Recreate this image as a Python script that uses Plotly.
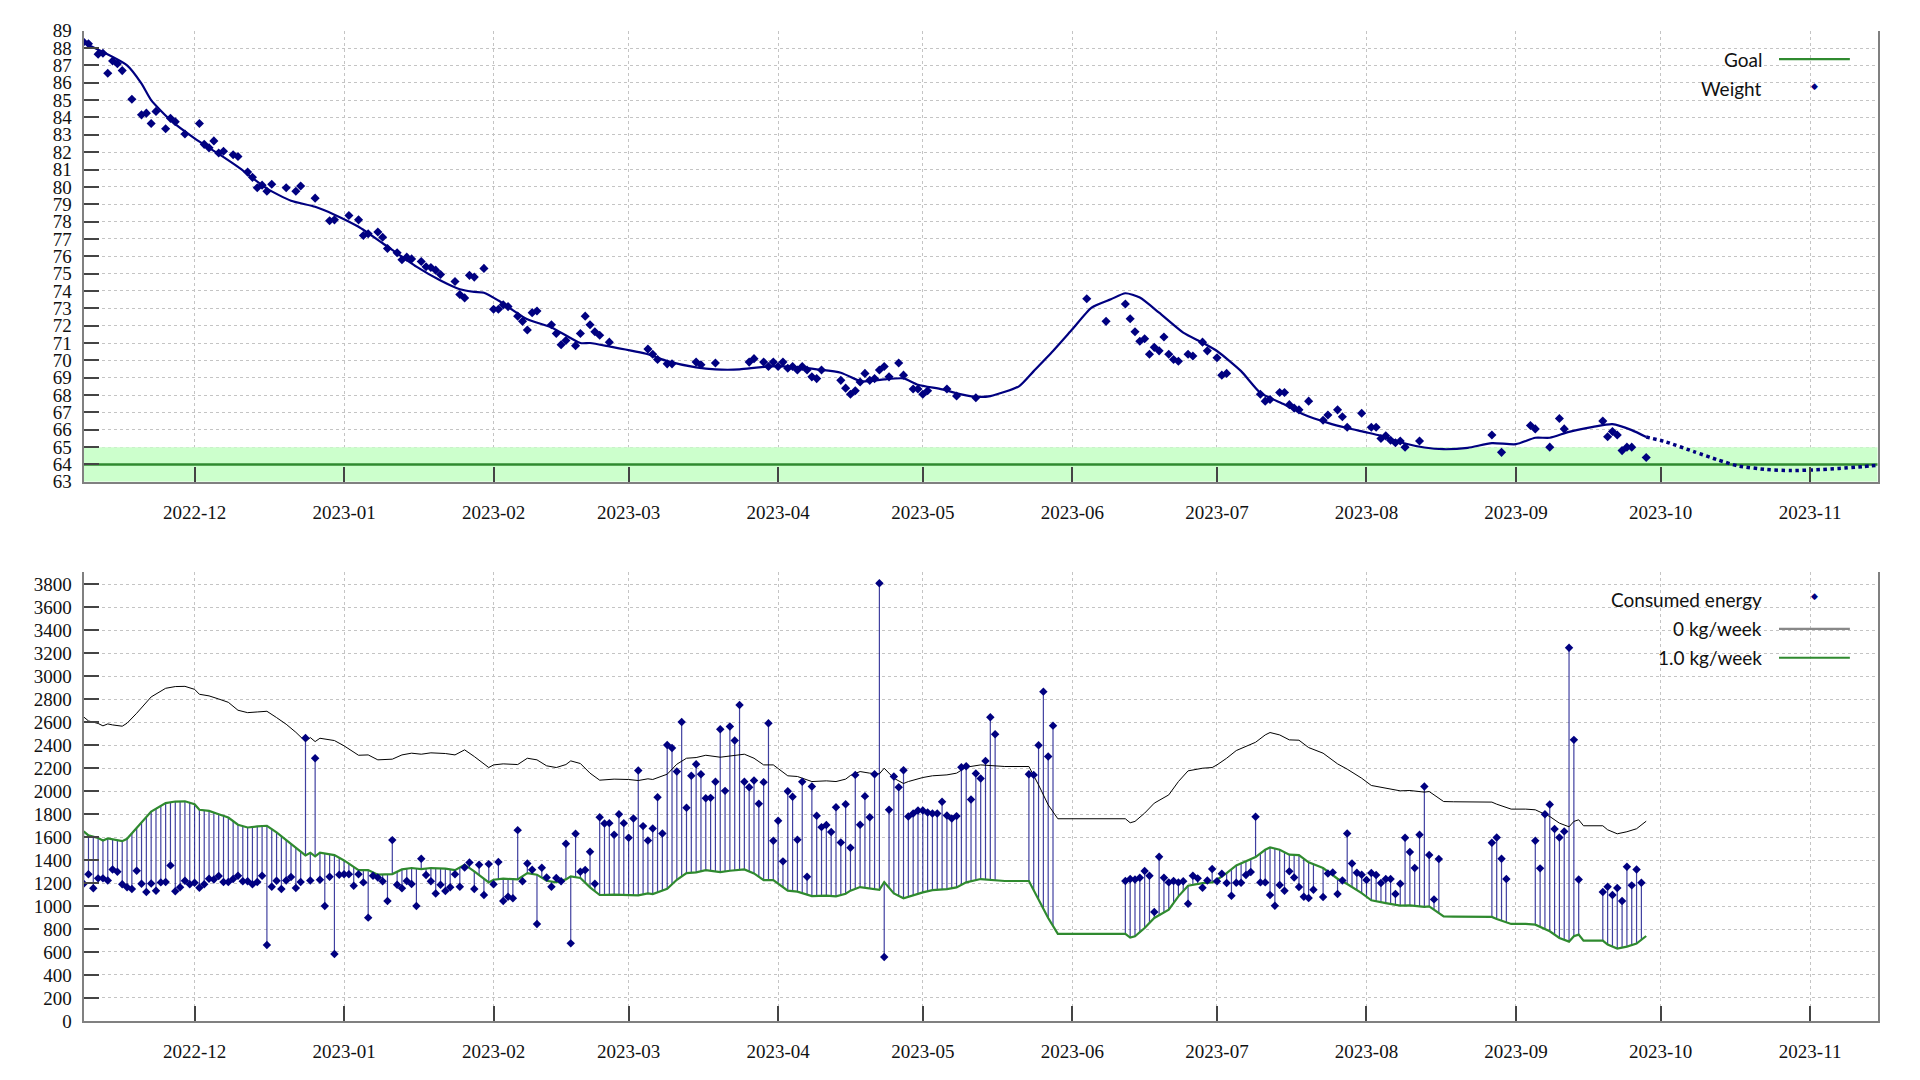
import numpy as np
import pandas as pd
import plotly.graph_objects as go
from plotly.subplots import make_subplots

# x axis: day numbers are counted from START
START = pd.Timestamp("2022-11-08")
X_END = pd.Timestamp("2023-11-15")

# --- weight chart ---
WEIGHT_DAY = [
    0, 1, 3, 4, 5, 6, 7, 8, 10, 12, 13, 14, 15, 17, 18, 19, 21, 24, 25, 26,
    27, 28, 29, 31, 32, 34, 35, 36, 37, 38, 39, 42, 44, 45, 48, 51, 52, 55, 57, 58,
    59, 61, 62, 63, 65, 66, 67, 68, 70, 71, 72, 73, 74, 77, 78, 79, 80, 81, 83, 85,
    86, 87, 88, 90, 91, 92, 93, 94, 97, 98, 99, 100, 102, 103, 104, 105, 106, 107, 109, 117,
    118, 119, 121, 122, 127, 128, 131, 138, 139, 141, 142, 143, 144, 145, 146, 147, 148, 149, 150, 151,
    152, 153, 157, 158, 159, 160, 161, 162, 163, 164, 165, 166, 167, 169, 170, 172, 173, 174, 175, 179,
    181, 185, 208, 212, 216, 217, 218, 219, 220, 221, 222, 223, 224, 225, 226, 227, 229, 230, 232, 233,
    235, 236, 237, 244, 245, 246, 248, 249, 250, 251, 252, 254, 257, 258, 260, 261, 262, 265, 267, 268,
    269, 270, 271, 272, 273, 274, 277, 292, 294, 300, 301, 304, 306, 307, 315, 316, 317, 318, 319, 320,
    321, 324,
]
WEIGHT_KG = [
    88.35, 88.25, 87.65, 87.7, 86.55, 87.25, 87.1, 86.7, 85.05, 84.15, 84.25, 83.65, 84.35, 83.35, 83.95, 83.75, 83.05, 83.65, 82.45, 82.25,
    82.65, 81.95, 82.05, 81.85, 81.75, 80.85, 80.55, 79.95, 80.1, 79.75, 80.15, 79.95, 79.75, 80.05, 79.35, 78.05, 78.1, 78.35, 78.1, 77.2,
    77.3, 77.4, 77.1, 76.45, 76.2, 75.8, 75.95, 75.85, 75.7, 75.4, 75.35, 75.2, 74.95, 74.55, 73.8, 73.6, 74.9, 74.8, 75.3, 72.95,
    72.95, 73.2, 73.1, 72.55, 72.25, 71.75, 72.75, 72.85, 72.05, 71.55, 70.9, 71.15, 70.85, 71.55, 72.55, 72.05, 71.65, 71.45, 71.05, 70.65,
    70.35, 70.05, 69.8, 69.8, 69.9, 69.75, 69.85, 69.9, 70.1, 69.9, 69.65, 69.9, 69.65, 69.9, 69.55, 69.65, 69.45, 69.65, 69.45, 69.05,
    68.95, 69.45, 68.85, 68.4, 68.05, 68.25, 68.75, 69.25, 68.85, 68.95, 69.45, 69.65, 69.05, 69.85, 69.15, 68.35, 68.35, 68.05, 68.25, 68.35,
    67.95, 67.85, 73.55, 72.25, 73.25, 72.4, 71.65, 71.1, 71.25, 70.35, 70.75, 70.55, 71.35, 70.35, 70.05, 69.95, 70.35, 70.25, 71.05, 70.55,
    70.15, 69.15, 69.25, 68.05, 67.65, 67.75, 68.15, 68.15, 67.45, 67.25, 67.15, 67.65, 66.55, 66.85, 67.15, 66.75, 66.15, 66.95, 66.15, 66.15,
    65.5, 65.65, 65.4, 65.25, 65.35, 65.0, 65.35, 65.7, 64.7, 66.25, 66.05, 65.0, 66.65, 66.05, 66.5, 65.6, 65.9, 65.7, 64.8, 65.0,
    65.0, 64.4,
]

TREND_DAY = [
    0, 9, 12, 14, 18, 23, 28, 32, 38, 43, 48, 52, 57, 62, 69, 74, 78, 81, 83, 86,
    92, 97, 103, 105, 109, 117, 121, 127, 131, 136, 140, 144, 149, 152, 157, 161, 163, 166, 170, 173,
    178, 182, 185, 188, 194, 197, 201, 205, 209, 213, 216, 219, 223, 228, 232, 235, 240, 244, 249, 253,
    258, 262, 266, 269, 274, 278, 282, 287, 292, 297, 301, 304, 308, 313, 317, 321, 324,
]
TREND_KG = [
    88.3, 87.0, 85.95, 85.0, 83.85, 82.8, 81.9, 81.15, 79.9, 79.2, 78.85, 78.4, 77.7, 76.75, 75.4, 74.6, 74.1, 73.95, 73.9, 73.45,
    72.37, 71.9, 71.0, 71.0, 70.8, 70.35, 69.96, 69.6, 69.48, 69.48, 69.6, 69.67, 69.58, 69.48, 69.29, 68.81, 68.8, 68.9, 68.96, 68.6,
    68.33, 68.04, 67.9, 67.94, 68.52, 69.38, 70.54, 71.79, 73.04, 73.52, 73.87, 73.62, 72.75, 71.6, 71.02, 70.54, 69.38, 68.13, 67.46, 66.88,
    66.4, 66.1, 65.85, 65.65, 65.21, 64.98, 64.88, 64.96, 65.23, 65.17, 65.54, 65.54, 65.88, 66.17, 66.33, 65.98, 65.58,
]
FORECAST_DAY = [324, 328, 334, 339, 343, 349, 354, 359, 364, 369, 372]
FORECAST_KG = [65.58, 65.31, 64.73, 64.25, 63.92, 63.71, 63.65, 63.69, 63.77, 63.88, 63.96]

GOAL_KG = 64
GOAL_BAND_KG = (63, 65)

# --- energy chart ---
# one value per day from START, None where nothing was logged
ENERGY_KCAL = [
    1194, 1276, 1154, 1241, 1241, 1223, 1319, 1299, 1189, 1163,
    1148, 1307, 1194, 1122, 1197, 1134, 1206, 1209, 1354, 1128,
    1163, 1220, 1189, 1203, 1160, 1189, 1238, 1232, 1261, 1209,
    1209, 1235, 1264, 1215, 1215, 1189, 1209, 1264, 661, 1168,
    1220, 1148, 1223, 1252, 1157, 1209, 2464, 1223, 2287, 1229,
    1000, 1255, 583, 1273, 1276, 1276, 1177, 1276, 1206, 899,
    1264, 1249, 1215, 1044, 1574, 1186, 1154, 1218, 1192, 1000,
    1412, 1270, 1215, 1110, 1186, 1131, 1163, 1276, 1168, 1336,
    1380, 1148, 1360, 1096, 1365, 1189, 1383, 1044, 1081, 1067,
    1661, 1215, 1371, 1316, 844, 1334, 1249, 1168, 1244, 1215,
    1542, 675, 1629, 1299, 1313, 1473, 1194, 1774, 1719, 1722,
    1621, 1800, 1722, 1594, 1763, 2180, 1696, 1571, 1676, 1948,
    1632, 2403, 2377, 2171, 2603, 1855, 2134, 2235, 2148, 1939,
    1942, 2082, 2540, 2003, 2563, 2441, 2751, 2082, 2035, 2093,
    1890, 2079, 2592, 1568, 1742, 1389, 2000, 1951, 1577, 2082,
    1255, 2041, 1786, 1687, 1705, 1644, 1861, 1554, 1887, 1507,
    2142, 1708, 1957, 1774, 2148, 3810, 557, 1838, 2128, 2035,
    2183, 1780, 1806, 1832, 1832, 1815, 1806, 1806, 1908, 1789,
    1763, 1783, 2209, 2218, 1928, 2154, 2110, 2264, 2644, 2496,
    None, None, None, None, None, None, 2148, 2142, 2400, 2867,
    2302, 2571, None, None, None, None, None, None, None, None,
    None, None, None, None, None, None, 1218, 1235, 1232, 1247,
    1305, 1264, 948, 1429, 1247, 1206, 1218, 1206, 1215, 1020,
    1264, 1241, 1160, 1223, 1322, 1215, 1281, 1200, 1090, 1203,
    1203, 1270, 1296, 1777, 1206, 1206, 1096, 1003, 1183, 1134,
    1302, 1249, 1165, 1081, 1070, 1142, None, 1078, 1284, 1293,
    1104, 1223, 1632, 1371, 1290, 1273, 1226, 1287, 1270, 1200,
    1235, 1235, 1104, 1194, 1594, 1470, 1331, 1621, 2041, 1444,
    1058, 1409, None, None, None, None, None, None, None, None,
    None, None, 1551, 1597, 1412, 1235, None, None, None, None,
    None, 1568, 1328, 1800, 1884, 1670, 1597, 1650, 3250, 2447,
    1232, None, None, None, None, 1122, 1168, 1096, 1157, 1044,
    1342, 1180, 1319, 1203,
]

BALANCE_DAY = [
    0, 1, 3, 4, 5, 6, 8, 9, 11, 14, 17, 19, 21, 23, 24, 26, 28, 30, 32, 34,
    36, 38, 40, 42, 44, 46, 47, 48, 49, 52, 54, 55, 57, 59, 61, 64, 66, 68, 70, 72,
    75, 77, 79, 81, 84, 85, 87, 90, 92, 94, 96, 98, 100, 101, 103, 105, 107, 110, 113, 115,
    117, 118, 121, 123, 125, 127, 129, 132, 134, 137, 139, 141, 143, 146, 148, 150, 151, 154, 156, 158,
    159, 161, 163, 165, 166, 168, 170, 171, 174, 176, 179, 181, 183, 186, 189, 191, 196, 198, 200, 202,
    216, 217, 218, 220, 222, 225, 227, 229, 232, 234, 235, 237, 239, 243, 245, 246, 248, 250, 252, 254,
    257, 260, 262, 265, 267, 270, 273, 275, 278, 279, 282, 284, 292, 293, 296, 299, 301, 304, 306, 308,
    309, 310, 311, 315, 316, 318, 320, 322, 324,
]
ZERO_KG_WEEK_KCAL = [
    2647, 2612, 2590, 2569, 2586, 2577, 2566, 2592, 2679, 2821, 2896, 2911, 2913, 2887, 2844, 2830, 2803, 2774, 2705, 2684,
    2690, 2696, 2641, 2583, 2513, 2432, 2467, 2432, 2461, 2441, 2395, 2368, 2313, 2316, 2273, 2279, 2316, 2331, 2322, 2334,
    2328, 2316, 2360, 2302, 2206, 2229, 2238, 2232, 2287, 2273, 2221, 2206, 2232, 2264, 2241, 2157, 2096, 2105, 2102, 2093,
    2108, 2102, 2148, 2235, 2287, 2293, 2313, 2296, 2305, 2322, 2287, 2229, 2229, 2134, 2128, 2099, 2084, 2090, 2084, 2105,
    2137, 2171, 2157, 2151, 2200, 2113, 2067, 2084, 2119, 2134, 2142, 2157, 2209, 2229, 2224, 2215, 2215, 2055, 1881, 1760,
    1760, 1725, 1737, 1809, 1896, 1968, 2084, 2177, 2200, 2206, 2229, 2287, 2354, 2426, 2490, 2511, 2490, 2447, 2444, 2380,
    2331, 2238, 2192, 2113, 2050, 2026, 2003, 2006, 1992, 1997, 1910, 1908, 1905, 1887, 1844, 1844, 1838, 1780, 1722, 1690,
    1737, 1751, 1699, 1699, 1664, 1629, 1647, 1673, 1739,
]
ONE_KG_WEEK_KCAL = [
    1650, 1615, 1592, 1571, 1589, 1580, 1565, 1586, 1678, 1823, 1896, 1910, 1912, 1887, 1838, 1829, 1800, 1771, 1708, 1684,
    1693, 1699, 1641, 1577, 1510, 1441, 1464, 1432, 1464, 1444, 1397, 1368, 1313, 1313, 1273, 1278, 1319, 1331, 1322, 1331,
    1325, 1313, 1360, 1302, 1206, 1229, 1238, 1232, 1287, 1273, 1220, 1206, 1232, 1258, 1244, 1163, 1096, 1099, 1099, 1093,
    1110, 1104, 1151, 1229, 1287, 1293, 1313, 1296, 1307, 1319, 1284, 1226, 1226, 1134, 1125, 1104, 1087, 1090, 1084, 1107,
    1134, 1165, 1151, 1142, 1209, 1110, 1067, 1081, 1119, 1139, 1148, 1162, 1206, 1235, 1226, 1218, 1218, 1055, 896, 757,
    757, 725, 737, 809, 896, 968, 1084, 1177, 1200, 1206, 1229, 1287, 1354, 1426, 1490, 1510, 1490, 1447, 1444, 1380,
    1331, 1238, 1192, 1113, 1050, 1026, 1003, 1006, 992, 997, 910, 908, 905, 887, 844, 844, 838, 780, 722, 690,
    737, 751, 699, 699, 664, 629, 647, 673, 739,
]

NAVY = "#000080"
GREEN = "#2f8a2f"
GRID = "#c4c4c4"
AXIS = "#808080"
TICK_FONT = dict(family="Liberation Serif", size=19, color="#111")
LEGEND_FONT = dict(family="Lato", size=19, color="#111")


def to_dates(days):
    return [START + pd.Timedelta(days=float(d)) for d in days]


energy_day = [d for d, v in enumerate(ENERGY_KCAL) if v is not None]
energy_val = [v for v in ENERGY_KCAL if v is not None]
# each stem runs from the logged value down/up to the 1.0 kg/week line
stem_base = np.interp(energy_day, BALANCE_DAY, ONE_KG_WEEK_KCAL)
stem_x, stem_y = [], []
for d, v, b in zip(to_dates(energy_day), energy_val, stem_base):
    stem_x += [d, d, None]
    stem_y += [v, b, None]

fig = make_subplots(rows=2, cols=1)

# goal band (63..65) and goal line, spanning the whole x range
fig.add_trace(go.Scatter(
    x=[START, X_END], y=[GOAL_BAND_KG[0]] * 2, mode="lines", line=dict(width=0),
    hoverinfo="skip",
), row=1, col=1)
fig.add_trace(go.Scatter(
    x=[START, X_END], y=[GOAL_BAND_KG[1]] * 2, mode="lines", line=dict(width=0),
    fill="tonexty", fillcolor="#ccffcc", hoverinfo="skip",
), row=1, col=1)
fig.add_trace(go.Scatter(
    x=[START, X_END], y=[GOAL_KG] * 2, mode="lines", line=dict(color=GREEN, width=2.5),
), row=1, col=1)

# weight
fig.add_trace(go.Scatter(
    x=to_dates(WEIGHT_DAY), y=WEIGHT_KG, mode="markers",
    marker=dict(symbol="diamond", size=7, color=NAVY),
), row=1, col=1)
fig.add_trace(go.Scatter(
    x=to_dates(TREND_DAY), y=TREND_KG, mode="lines",
    line=dict(color=NAVY, width=2.2, shape="spline", smoothing=0.6),
), row=1, col=1)
fig.add_trace(go.Scatter(
    x=to_dates(FORECAST_DAY), y=FORECAST_KG, mode="lines",
    line=dict(color=NAVY, width=3.5, dash="dot", shape="spline", smoothing=0.6),
), row=1, col=1)

# energy
fig.add_trace(go.Scatter(
    x=stem_x, y=stem_y, mode="lines",
    line=dict(color="rgba(0,0,128,0.75)", width=1.2),
), row=2, col=1)
fig.add_trace(go.Scatter(
    x=to_dates(BALANCE_DAY), y=ZERO_KG_WEEK_KCAL, mode="lines",
    line=dict(color="black", width=1),
), row=2, col=1)
fig.add_trace(go.Scatter(
    x=to_dates(BALANCE_DAY), y=ONE_KG_WEEK_KCAL, mode="lines",
    line=dict(color=GREEN, width=2.2),
), row=2, col=1)
fig.add_trace(go.Scatter(
    x=to_dates(energy_day), y=energy_val, mode="markers",
    marker=dict(symbol="diamond", size=6.5, color=NAVY),
), row=2, col=1)


# legends drawn by hand: label on the left, sample on the right
def legend_row(y, label, kind, color):
    fig.add_annotation(xref="paper", yref="paper", x=0.9145, y=y, text=label,
                       showarrow=False, xanchor="right", yanchor="middle", font=LEGEND_FONT)
    if kind == "line":
        fig.add_shape(type="line", xref="paper", yref="paper", x0=0.9224, x1=0.9593,
                      y0=y, y1=y, line=dict(color=color, width=2.2))
    else:
        fig.add_annotation(xref="paper", yref="paper", x=0.9437, y=y, text="◆",
                           showarrow=False, yanchor="middle", yshift=3,
                           font=dict(family="DejaVu Sans", size=9, color=color))


legend_row(0.9611, "Goal", "line", GREEN)
legend_row(0.9330, "Weight", "marker", NAVY)
legend_row(0.4509, "Consumed energy", "marker", NAVY)
legend_row(0.4231, "0 kg/week", "line", "#888888")
legend_row(0.3959, "1.0 kg/week", "line", GREEN)

xstyle = dict(
    type="date", range=[START, X_END], tick0="2022-12-01", dtick="M1", tickformat="%Y-%m",
    ticks="inside", ticklen=15, tickwidth=1.5, tickcolor="#444",
    showgrid=True, gridcolor=GRID, griddash="dot", gridwidth=1,
    showline=True, linecolor=AXIS, linewidth=2, zeroline=False,
    tickfont=TICK_FONT, ticklabelstandoff=12, domain=[0.0394, 0.9738],
)
ystyle = dict(
    ticks="inside", ticklen=15, tickwidth=2, tickcolor="#444",
    showgrid=True, gridcolor=GRID, griddash="dot", gridwidth=1,
    showline=True, mirror=True, linecolor=AXIS, linewidth=2, zeroline=False,
    tickfont=TICK_FONT, ticklabelstandoff=6,
)
fig.update_xaxes(**xstyle)
fig.update_yaxes(**ystyle)
fig.update_yaxes(range=[63, 89], dtick=1, domain=[0.562, 0.988], row=1, col=1)
fig.update_yaxes(range=[0, 3910], tick0=0, dtick=200, domain=[0.053, 0.477], row=2, col=1)

fig.update_layout(
    width=1920, height=1080,
    paper_bgcolor="white", plot_bgcolor="white",
    margin=dict(l=0, r=0, t=0, b=0),
    showlegend=False,
    font=TICK_FONT,
)

fig.write_html("out.html")
